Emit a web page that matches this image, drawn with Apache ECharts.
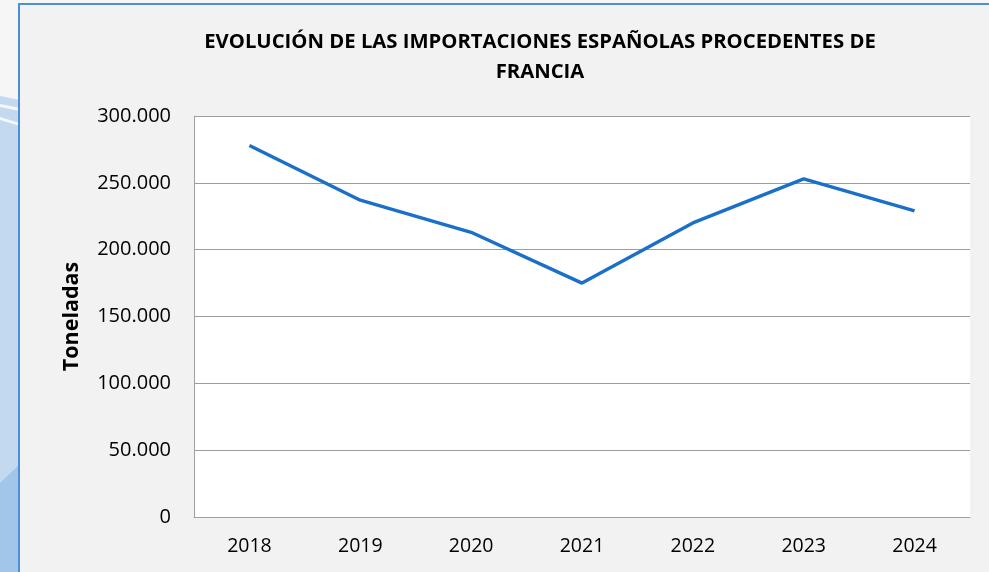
<!DOCTYPE html>
<html>
<head>
<meta charset="utf-8">
<script src="https://cdn.jsdelivr.net/npm/echarts@6/dist/echarts.min.js"></script>
<style>
  html, body { margin: 0; padding: 0; background: #f6f6f6; }
  #chart { width: 989px; height: 572px; }
</style>
</head>
<body>
<div id="chart"></div>
<script>
// Import volumes (tonnes) per year
const years = ['2018', '2019', '2020', '2021', '2022', '2023', '2024'];
const tonnes = [278000, 237000, 213000, 175000, 220000, 253000, 229000];
const yTicks = [0, 50000, 100000, 150000, 200000, 250000, 300000];

const titleLines = ['EVOLUCIÓN DE LAS IMPORTACIONES ESPAÑOLAS PROCEDENTES DE', 'FRANCIA'];
const yAxisName = 'Toneladas';

const FONT = '"Open Sans", "Noto Sans", sans-serif';

function fmtThousands(v) {
  return String(v).replace(/\B(?=(\d{3})+(?!\d))/g, '.');
}

const chart = echarts.init(document.getElementById('chart'), null, { renderer: 'canvas' });

chart.setOption({
  backgroundColor: '#f6f6f6',
  animation: false,
  graphic: [
    // decorative slide background on the left edge
    { type: 'polygon', z: -10, shape: { points: [[0, 96], [20, 100], [20, 572], [0, 572]] },
      style: { fill: '#c2d9f0' } },
    { type: 'polygon', z: -9, shape: { points: [[0, 104], [20, 108], [20, 111], [0, 107]] },
      style: { fill: '#f4f7fb' } },
    { type: 'polygon', z: -9, shape: { points: [[0, 117], [20, 123], [20, 126], [0, 120]] },
      style: { fill: '#f4f7fb' } },
    { type: 'polygon', z: -9, shape: { points: [[0, 483], [20, 464], [20, 572], [0, 572]] },
      style: { fill: '#a2c6e9' } },
    // chart area box
    { type: 'rect', z: -5, shape: { x: 19, y: 4, width: 1000, height: 600 },
      style: { fill: '#f2f2f2', stroke: '#4a8fd8', lineWidth: 2 } },
    // title
    { type: 'text', z: 10, left: 540 - 400, top: 27,
      style: { text: titleLines.join('\n'), width: 800, align: 'center', textAlign: 'center',
        x: 400, font: 'bold 20.3px ' + FONT, fill: '#000', lineHeight: 30 } }
  ],
  grid: {
    left: 194, top: 116, right: 19, bottom: 55,
    show: true, backgroundColor: '#ffffff', borderWidth: 0
  },
  xAxis: {
    type: 'category',
    data: years,
    boundaryGap: true,
    axisLine: { show: true, lineStyle: { color: '#a0a0a0', width: 1 } },
    axisTick: { show: false },
    axisLabel: { color: '#000', fontFamily: FONT, fontSize: 19.5, margin: 19 }
  },
  yAxis: {
    type: 'value',
    min: 0, max: 300000, interval: 50000,
    name: yAxisName,
    nameLocation: 'middle',
    nameRotate: 90,
    nameGap: 111,
    nameTextStyle: { color: '#000', fontFamily: FONT, fontSize: 21.5, fontWeight: 'bold' },
    axisLine: { show: true, lineStyle: { color: '#a0a0a0', width: 1 } },
    axisTick: { show: false },
    splitLine: { show: true, lineStyle: { color: '#9c9c9c', width: 1 } },
    axisLabel: { color: '#000', fontFamily: FONT, fontSize: 20, margin: 23,
      formatter: v => fmtThousands(v) }
  },
  series: [{
    type: 'line',
    data: tonnes,
    symbol: 'none',
    lineStyle: { color: '#1a70c9', width: 3.4 },
    itemStyle: { color: '#1a70c9' }
  }]
});
</script>
</body>
</html>
